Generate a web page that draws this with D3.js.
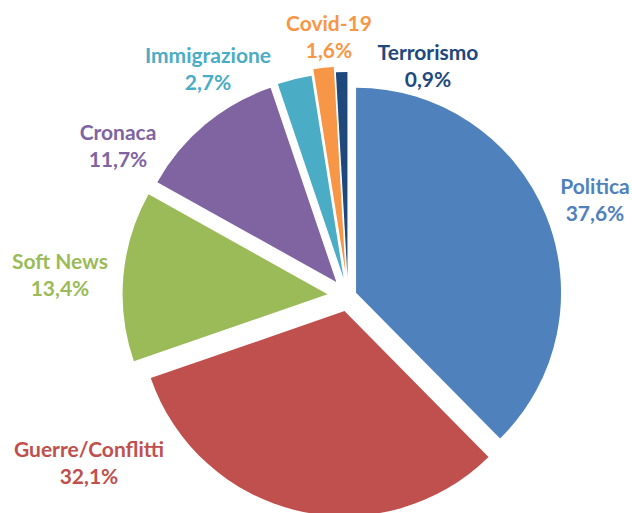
<!DOCTYPE html>
<html>
<head>
<meta charset="utf-8">
<script src="https://cdn.jsdelivr.net/npm/d3@7"></script>
<style>
  body { margin: 0; background: #fff; }
</style>
</head>
<body>
<script>
var categories = ["Politica", "Guerre/Conflitti", "Soft News", "Cronaca", "Immigrazione", "Covid-19", "Terrorismo"];
var values = [37.6, 32.1, 13.4, 11.7, 2.7, 1.6, 0.9];
var colors = ["#4F81BD", "#C0504D", "#9BBB59", "#8064A2", "#4BACC6", "#F79646", "#1F497D"];

// how far each slice is pulled out (px)
var explode = [8.7, 15.5, 20.5, 18.2, 18.4, 24.4, 19];
// label centres (px), placed like the original
var labelPos = [[595, 200], [89, 463], [60, 275], [118, 146], [208, 69], [329, 37], [428, 66]];

var width = 632, height = 513;
var cx = 348, cy = 296, radius = 205;

var it = d3.formatLocale({decimal: ",", thousands: ".", grouping: [3], currency: ["", "€"]});
var fmt = it.format(".1f");

var svg = d3.select("body")
            .append("svg")
            .attr("width", width)
            .attr("height", height);

var pie = d3.pie().sort(null).value(function(d) { return d; });
var arc = d3.arc().innerRadius(0).outerRadius(radius);

var arcs = pie(values);

svg.append("g")
   .attr("transform", "translate(" + cx + "," + cy + ")")
   .selectAll("path")
   .data(arcs)
   .enter()
   .append("path")
   .attr("d", arc)
   .attr("fill", function(d, i) { return colors[i]; })
   .attr("transform", function(d, i) {
       var mid = (d.startAngle + d.endAngle) / 2;
       return "translate(" + (Math.sin(mid) * explode[i]) + "," + (-Math.cos(mid) * explode[i]) + ")";
   });

var labels = svg.append("g")
   .selectAll("text")
   .data(arcs)
   .enter()
   .append("text")
   .attr("text-anchor", "middle")
   .attr("fill", function(d, i) { return colors[i]; })
   .attr("font-family", "Lato, 'Open Sans', sans-serif")
   .attr("font-weight", "bold")
   .attr("font-size", "21px");

labels.append("tspan")
   .attr("x", function(d, i) { return labelPos[i][0]; })
   .attr("y", function(d, i) { return labelPos[i][1] - 6; })
   .text(function(d, i) { return categories[i]; });

labels.append("tspan")
   .attr("x", function(d, i) { return labelPos[i][0]; })
   .attr("y", function(d, i) { return labelPos[i][1] + 21; })
   .text(function(d) { return fmt(d.data) + "%"; });
</script>
</body>
</html>
